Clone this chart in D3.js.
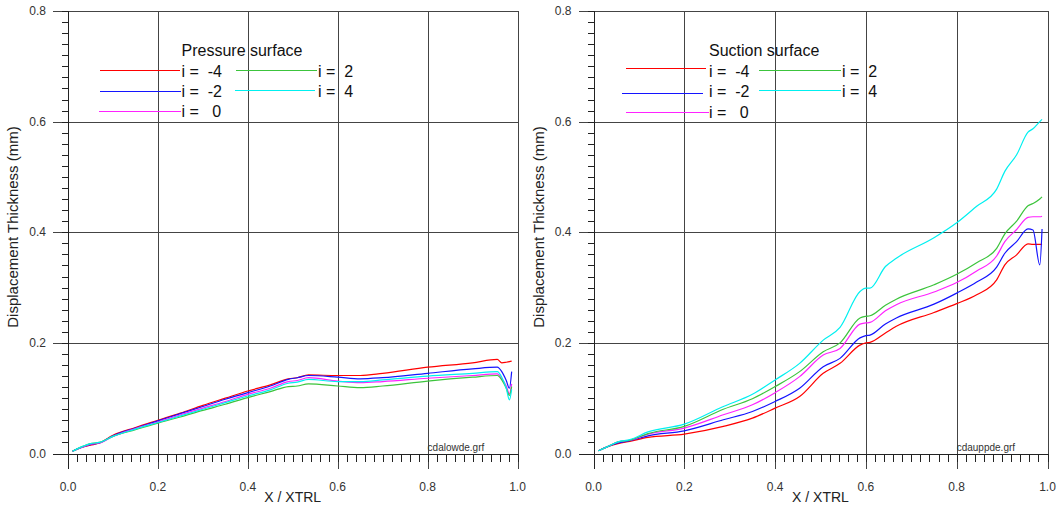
<!DOCTYPE html>
<html>
<head>
<meta charset="utf-8">
<script src="https://cdn.jsdelivr.net/npm/d3@7"></script>
<style>
  body { margin: 0; background: #fff; }
  text { font-family: "Liberation Sans", Arial, sans-serif; }
</style>
</head>
<body>
<div id="chart"></div>
<script>

// tick values (both axes run 0..1 in x, 0..0.8 in y)
var xTickValues = [0.0, 0.2, 0.4, 0.6, 0.8, 1.0];
var yTickValues = [0.0, 0.2, 0.4, 0.6, 0.8];
var seriesLabels = ["i =  -4", "i =  -2", "i =   0", "i =  2", "i =  4"];
var seriesColors = ["#ff0000", "#1414ff", "#ff22ff", "#3cc43c", "#00f0f0"];

// pressure surface (cdalowde.grf)
var pressureX  = [0.01, 0.03, 0.05, 0.07, 0.1, 0.15, 0.2, 0.25, 0.3, 0.35, 0.4, 0.45, 0.49, 0.51, 0.535, 0.6, 0.65, 0.7, 0.8, 0.9, 0.955, 0.965, 0.975, 0.982, 0.987];
var pressureM4 = [0.004, 0.011, 0.015, 0.019, 0.033, 0.047, 0.060, 0.073, 0.087, 0.100, 0.113, 0.124, 0.135, 0.137, 0.142, 0.141, 0.141, 0.145, 0.156, 0.164, 0.170, 0.164, 0.165, 0.166, 0.167];
var pressureM2 = [0.004, 0.011, 0.016, 0.019, 0.032, 0.046, 0.059, 0.072, 0.085, 0.098, 0.110, 0.122, 0.134, 0.137, 0.141, 0.138, 0.135, 0.137, 0.145, 0.153, 0.156, 0.148, 0.132, 0.118, 0.148];
var pressure0  = [0.004, 0.011, 0.017, 0.019, 0.031, 0.045, 0.057, 0.070, 0.082, 0.094, 0.107, 0.118, 0.130, 0.132, 0.137, 0.131, 0.128, 0.130, 0.136, 0.141, 0.144, 0.135, 0.122, 0.108, 0.126];
var pressureP2 = [0.004, 0.012, 0.018, 0.020, 0.031, 0.043, 0.055, 0.066, 0.078, 0.089, 0.101, 0.112, 0.121, 0.122, 0.126, 0.122, 0.119, 0.122, 0.131, 0.138, 0.141, 0.133, 0.118, 0.105, 0.121];
var pressureP4 = [0.004, 0.012, 0.018, 0.020, 0.031, 0.044, 0.056, 0.068, 0.080, 0.092, 0.104, 0.115, 0.127, 0.129, 0.134, 0.130, 0.130, 0.133, 0.140, 0.145, 0.148, 0.138, 0.118, 0.097, 0.116];

// suction surface (cdauppde.grf)
var suctionX  = [0.011, 0.03, 0.054, 0.08, 0.12, 0.2, 0.286, 0.35, 0.4, 0.454, 0.506, 0.543, 0.587, 0.6, 0.609, 0.643, 0.667, 0.75, 0.8, 0.844, 0.888, 0.906, 0.932, 0.957, 0.968, 0.983, 0.988];
var suctionM4 = [0.005, 0.012, 0.018, 0.022, 0.029, 0.035, 0.049, 0.064, 0.082, 0.103, 0.145, 0.163, 0.196, 0.200, 0.201, 0.218, 0.230, 0.255, 0.271, 0.287, 0.314, 0.341, 0.359, 0.379, 0.378, 0.378, 0.378];
var suctionM2 = [0.005, 0.012, 0.019, 0.023, 0.032, 0.041, 0.061, 0.076, 0.094, 0.118, 0.157, 0.172, 0.209, 0.213, 0.214, 0.234, 0.245, 0.270, 0.290, 0.310, 0.337, 0.362, 0.383, 0.406, 0.404, 0.341, 0.406];
var suction0  = [0.005, 0.012, 0.021, 0.024, 0.035, 0.046, 0.070, 0.088, 0.110, 0.139, 0.178, 0.190, 0.234, 0.236, 0.237, 0.258, 0.269, 0.292, 0.309, 0.330, 0.357, 0.383, 0.405, 0.427, 0.428, 0.428, 0.429];
var suctionP2 = [0.005, 0.012, 0.021, 0.024, 0.036, 0.049, 0.080, 0.099, 0.121, 0.148, 0.184, 0.200, 0.245, 0.248, 0.249, 0.268, 0.279, 0.305, 0.324, 0.345, 0.371, 0.397, 0.420, 0.448, 0.452, 0.460, 0.464];
var suctionP4 = [0.005, 0.012, 0.021, 0.025, 0.039, 0.053, 0.085, 0.107, 0.133, 0.163, 0.205, 0.228, 0.293, 0.299, 0.299, 0.338, 0.353, 0.390, 0.417, 0.447, 0.478, 0.510, 0.540, 0.581, 0.587, 0.600, 0.604];

var W = 1061, H = 506;

var svg = d3.select("#chart").append("svg")
    .attr("width", W)
    .attr("height", H)
    .style("display", "block");

svg.append("rect").attr("width", W).attr("height", H).attr("fill", "#fff");

function drawPanel(opt) {
    var x = d3.scaleLinear().domain([0, 1]).range([opt.left, opt.right]);
    var y = d3.scaleLinear().domain([0, 0.8]).range([453.5, 11]);
    var g = svg.append("g").attr("shape-rendering", "crispEdges");
    var axisColor = "#444";

    var minor = d3.range(0, 51).map(function(i){ return i * 0.02; });
    var minorY = d3.range(0, 41).map(function(i){ return i * 0.02; });

    // grid lines
    g.selectAll(".vgrid").data(xTickValues.slice(1)).enter().append("line")
        .attr("x1", function(d){ return Math.round(x(d)) + 0.5; })
        .attr("x2", function(d){ return Math.round(x(d)) + 0.5; })
        .attr("y1", y(0.8)).attr("y2", y(0) + 15)
        .attr("stroke", axisColor);

    g.selectAll(".hgrid").data(yTickValues.slice(1)).enter().append("line")
        .attr("x1", x(0) - 15).attr("x2", x(1))
        .attr("y1", function(d){ return Math.round(y(d)) + 0.5; })
        .attr("y2", function(d){ return Math.round(y(d)) + 0.5; })
        .attr("stroke", axisColor);

    // axes
    g.append("line")
        .attr("x1", Math.round(x(0)) + 0.5).attr("x2", Math.round(x(0)) + 0.5)
        .attr("y1", y(0.8)).attr("y2", y(0) + 15)
        .attr("stroke", "#222");
    g.append("line")
        .attr("x1", x(0) - 15).attr("x2", x(1))
        .attr("y1", Math.round(y(0)) + 0.5).attr("y2", Math.round(y(0)) + 0.5)
        .attr("stroke", "#222");

    // minor ticks
    g.selectAll(".xminor").data(minor).enter().append("line")
        .attr("x1", function(d){ return Math.round(x(d)) + 0.5; })
        .attr("x2", function(d){ return Math.round(x(d)) + 0.5; })
        .attr("y1", y(0)).attr("y2", y(0) + 8)
        .attr("stroke", "#222");
    g.selectAll(".yminor").data(minorY).enter().append("line")
        .attr("x1", x(0) - 6).attr("x2", x(0))
        .attr("y1", function(d){ return Math.round(y(d)) + 0.5; })
        .attr("y2", function(d){ return Math.round(y(d)) + 0.5; })
        .attr("stroke", "#222");

    // tick labels
    svg.selectAll(null).data(xTickValues).enter().append("text")
        .attr("x", function(d){ return x(d); })
        .attr("y", 491)
        .attr("text-anchor", "middle")
        .attr("font-size", 12)
        .attr("fill", "#333")
        .text(function(d){ return d3.format(".1f")(d); });

    svg.selectAll(null).data(yTickValues).enter().append("text")
        .attr("x", x(0) - 22)
        .attr("y", function(d){ return y(d) + 4; })
        .attr("text-anchor", "end")
        .attr("font-size", 12)
        .attr("fill", "#333")
        .text(function(d){ return d3.format(".1f")(d); });

    svg.append("text")
        .attr("x", x(0.5))
        .attr("y", 502)
        .attr("text-anchor", "middle")
        .attr("font-size", 14)
        .attr("fill", "#222")
        .text("X / XTRL");

    svg.append("text")
        .attr("transform", "translate(" + (x(0) - 50) + "," + 227 + ") rotate(-90)")
        .attr("text-anchor", "middle")
        .attr("font-size", 15)
        .attr("fill", "#222")
        .text("Displacement Thickness (mm)");

    svg.append("text")
        .attr("x", x(0.8))
        .attr("y", 451)
        .attr("font-size", 10)
        .attr("fill", "#333")
        .text(opt.file);

    // curves
    var line = d3.line()
        .curve(d3.curveMonotoneX)
        .x(function(d){ return x(d[0]); })
        .y(function(d){ return y(d[1]); });

    opt.series.forEach(function(vals, i){
        var pts = opt.xs.map(function(v, j){ return [v, vals[j]]; });
        svg.append("path")
            .datum(pts)
            .attr("d", line)
            .attr("fill", "none")
            .attr("stroke", seriesColors[i])
            .attr("stroke-width", 1.2);
    });

    // legend
    svg.append("text")
        .attr("x", opt.legend.titleX)
        .attr("y", 56)
        .attr("font-size", 16)
        .attr("fill", "#111")
        .text(opt.title);

    opt.legend.rows.forEach(function(r, i){
        svg.append("line")
            .attr("x1", r[0]).attr("x2", r[1])
            .attr("y1", r[2]).attr("y2", r[2])
            .attr("stroke", seriesColors[i])
            .attr("stroke-width", 1);
        svg.append("text")
            .attr("x", r[3])
            .attr("y", r[4])
            .attr("font-size", 16)
            .attr("fill", "#111")
            .style("white-space", "pre")
            .text(seriesLabels[i]);
    });
}

drawPanel({
    left: 68, right: 517.5,
    xs: pressureX,
    series: [pressureM4, pressureM2, pressure0, pressureP2, pressureP4],
    title: "Pressure surface",
    file: "cdalowde.grf",
    legend: {
        titleX: 181.5,
        rows: [[100, 180, 70.5, 181.5, 77], [100, 181, 91.5, 181.5, 97], [99, 181, 111.5, 181.5, 117],
               [236, 317, 70.5, 318, 77], [235, 315, 90.5, 318, 97]]
    }
});

drawPanel({
    left: 593.5, right: 1047.5,
    xs: suctionX,
    series: [suctionM4, suctionM2, suction0, suctionP2, suctionP4],
    title: "Suction surface",
    file: "cdauppde.grf",
    legend: {
        titleX: 709,
        rows: [[626, 706, 68.5, 709, 77], [622, 703, 93.5, 709, 97], [626, 709, 112.5, 709, 118],
               [759, 841, 70.5, 842, 77], [759, 841, 90.5, 842, 97]]
    }
});

</script>
</body>
</html>
